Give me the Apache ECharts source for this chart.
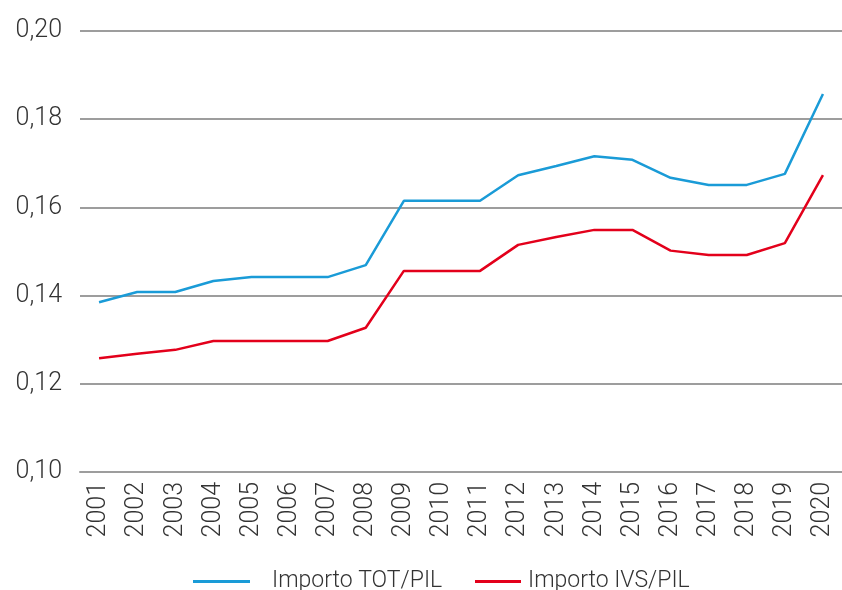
<!DOCTYPE html>
<html>
<head>
<meta charset="utf-8">
<script src="https://cdn.jsdelivr.net/npm/echarts@6/dist/echarts.min.js"></script>
<style>
  html, body { margin: 0; padding: 0; background: #fff; }
  #chart { width: 842px; height: 590px; }
</style>
</head>
<body>
<div id="chart"></div>
<script>
// dati
const years = ['2001', '2002', '2003', '2004', '2005', '2006', '2007', '2008', '2009', '2010',
    '2011', '2012', '2013', '2014', '2015', '2016', '2017', '2018', '2019', '2020'];
const totPil = [0.1385, 0.1408, 0.1408, 0.1433, 0.1442, 0.1442, 0.1442, 0.1469, 0.1615, 0.1615,
    0.1615, 0.1673, 0.1694, 0.1716, 0.1708, 0.1667, 0.1651, 0.1651, 0.1676, 0.1857];
const ivsPil = [0.1258, 0.1268, 0.1277, 0.1297, 0.1297, 0.1297, 0.1297, 0.1327, 0.1456, 0.1456,
    0.1456, 0.1515, 0.1533, 0.1549, 0.1549, 0.1502, 0.1492, 0.1492, 0.1519, 0.1673];

const font = 'Roboto, "Liberation Sans", sans-serif';

let chart = echarts.init(document.getElementById('chart'));
chart.setOption({
    animation: false,
    grid: {
        left: 80,
        width: 767,
        top: 31,
        bottom: 118
    },
    legend: [
        {
            data: ['Importo TOT/PIL'],
            left: 188,
            top: 565,
            itemWidth: 57,
            itemHeight: 3,
            itemGap: 0,
            icon: 'rect',
            textStyle: { fontFamily: font, fontSize: 23, color: '#333', fontWeight: 300, padding: [0, 0, 0, 17] }
        },
        {
            data: ['Importo IVS/PIL'],
            left: 470,
            top: 565,
            itemWidth: 46,
            itemHeight: 3,
            icon: 'rect',
            textStyle: { fontFamily: font, fontSize: 23, color: '#333', fontWeight: 300, padding: [0, 0, 0, 2] }
        }
    ],
    xAxis: {
        type: 'category',
        data: years,
        boundaryGap: true,
        axisLine: { show: true, lineStyle: { color: '#9d9d9d', width: 2 } },
        axisTick: { show: false },
        axisLabel: {
            rotate: 90,
            interval: 0,
            margin: 10,
            fontFamily: font,
            fontSize: 25,
            fontWeight: 300,
            color: '#333'
        }
    },
    yAxis: {
        type: 'value',
        min: 0.10,
        max: 0.20,
        interval: 0.02,
        axisLine: { show: false },
        axisTick: { show: false },
        splitLine: { lineStyle: { color: '#9d9d9d', width: 2 } },
        axisLabel: {
            margin: 18,
            fontFamily: font,
            fontSize: 25,
            fontWeight: 300,
            color: '#333',
            formatter: v => v.toFixed(2).replace('.', ',')
        }
    },
    series: [
        {
            name: 'Importo TOT/PIL',
            type: 'line',
            data: totPil,
            symbol: 'none',
            color: '#1a9bd7',
            lineStyle: { width: 2.5 }
        },
        {
            name: 'Importo IVS/PIL',
            type: 'line',
            data: ivsPil,
            symbol: 'none',
            color: '#e3001b',
            lineStyle: { width: 2.5 }
        }
    ]
});
</script>
</body>
</html>
